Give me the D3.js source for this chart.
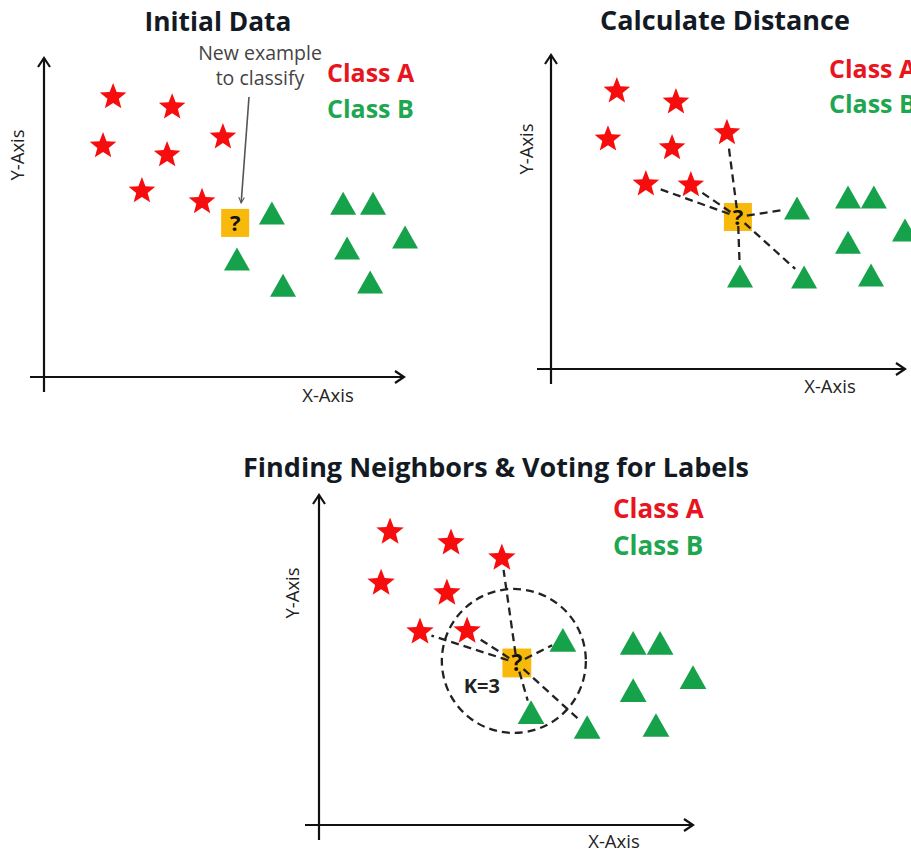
<!DOCTYPE html>
<html>
<head>
<meta charset="utf-8">
<script src="https://cdn.jsdelivr.net/npm/d3@7"></script>
<style>
  html, body { margin: 0; padding: 0; background: #fff; }
  svg { display: block; font-family: "Open Sans", Lato, sans-serif; }
</style>
</head>
<body>
<div id="chart"></div>
<script>
// Data (x, y in axis units 0..10 for each panel)
const classNames = ["Class A", "Class B"];
const panelTitles = ["Initial Data", "Calculate Distance", "Finding Neighbors & Voting for Labels"];
const axisLabels = ["X-Axis", "Y-Axis"];
const noteLines = ["New example", "to classify"];
const kLabel = "K=3";

const initialStars = [[1.92, 8.78], [3.56, 8.46], [4.97, 7.52], [1.64, 7.24], [3.42, 6.96], [2.72, 5.83], [4.39, 5.49]];
const initialTriangles = [[6.33, 5.14], [8.31, 5.45], [9.14, 5.45], [10.03, 4.39], [8.42, 4.04], [5.36, 3.70], [6.64, 2.88], [9.06, 2.98]];
const initialQuery = [5.31, 4.83];

const distanceStars = [[1.86, 8.85], [3.53, 8.50], [4.97, 7.52], [1.61, 7.32], [3.42, 7.04], [2.68, 5.89], [3.95, 5.86]];
const distanceTriangles = [[6.95, 5.13], [8.39, 5.48], [9.12, 5.48], [10.0, 4.43], [8.39, 4.04], [5.34, 2.96], [7.15, 2.93], [9.04, 2.99]];
const distanceQuery = [5.28, 4.84];

const votingStars = [[1.90, 8.88], [3.53, 8.55], [4.89, 8.09], [1.66, 7.33], [3.42, 7.03], [2.70, 5.85], [3.96, 5.88]];
const votingTriangles = [[6.52, 5.61], [8.40, 5.52], [9.12, 5.52], [10.0, 4.48], [8.40, 4.09], [5.67, 3.42], [7.17, 2.97], [9.01, 3.03]];
const votingQuery = [5.29, 4.91];

// indices of the points joined to the new example
const neighborStars = [2, 5, 6];
const neighborTriangles = [0, 5, 6];

// Colors
const RED = "#f70d0d";
const GREEN = "#16a24a";
const BOX = "#f8b90b";
const INK = "#141a24";

const width = 911, height = 855;
const svg = d3.select("#chart").append("svg")
    .attr("width", width)
    .attr("height", height);

const defs = svg.append("defs");
defs.append("marker")
    .attr("id", "note-arrow")
    .attr("viewBox", "0 0 10 10")
    .attr("refX", 9).attr("refY", 5)
    .attr("markerWidth", 7).attr("markerHeight", 7)
    .attr("markerUnits", "userSpaceOnUse")
    .attr("orient", "auto")
    .append("path")
    .attr("d", "M1,1 L9,5 L1,9")
    .attr("fill", "none")
    .attr("stroke", "#555")
    .attr("stroke-width", 1.6);

function starPath(R, r) {
    const pts = [];
    for (let i = 0; i < 10; i++) {
        const a = -Math.PI / 2 + i * Math.PI / 5;
        const rad = i % 2 === 0 ? R : r;
        pts.push([Math.cos(a) * rad, Math.sin(a) * rad]);
    }
    return "M" + pts.map(p => p.join(",")).join("L") + "Z";
}
function trianglePath(w, h) {
    return `M0,${-h / 2}L${w / 2},${h / 2}L${-w / 2},${h / 2}Z`;
}

function drawPanel(p) {
    const x = d3.scaleLinear().domain([0, 10]).range(p.xRange);
    const y = d3.scaleLinear().domain([0, 10]).range(p.yRange);
    const g = svg.append("g");
    const s = p.markScale || 1;

    // Title
    g.append("text")
        .attr("x", p.title[0]).attr("y", p.title[1])
        .attr("text-anchor", "middle")
        .attr("font-weight", 700)
        .attr("font-size", p.titleSize)
        .attr("fill", INK)
        .text(p.titleText);

    // Axes (arrows)
    const x0 = x(0), y0 = y(0);
    const xEnd = x.range()[1], yEnd = y.range()[1];
    const axes = g.append("g")
        .attr("fill", "none")
        .attr("stroke", "#111")
        .attr("stroke-width", 2.2);
    axes.append("path").attr("d", `M${x0},${y0 + 15}V${yEnd}`);
    axes.append("path").attr("d", `M${x0 - 14},${y0}H${xEnd}`);
    axes.append("path").attr("d", `M${x0 - 6},${yEnd + 9}L${x0},${yEnd}L${x0 + 6},${yEnd + 9}`);
    axes.append("path").attr("d", `M${xEnd - 9},${y0 - 6}L${xEnd},${y0}L${xEnd - 9},${y0 + 6}`);

    g.append("text")
        .attr("x", p.xLabel[0]).attr("y", p.xLabel[1])
        .attr("text-anchor", "middle")
        .attr("font-size", 18.5)
        .attr("fill", "#222")
        .text(axisLabels[0]);
    g.append("text")
        .attr("transform", `translate(${p.yLabel[0]},${p.yLabel[1]}) rotate(-90)`)
        .attr("text-anchor", "middle")
        .attr("dy", "0.35em")
        .attr("font-size", 18.5)
        .attr("fill", "#222")
        .text(axisLabels[1]);

    // Legend text
    g.selectAll(".cls")
        .data(classNames)
        .enter().append("text")
        .attr("x", p.legend[0])
        .attr("y", (d, i) => p.legend[1] + i * p.legendGap)
        .attr("font-weight", 700)
        .attr("font-size", p.legendSize)
        .attr("fill", (d, i) => i === 0 ? "#e8141e" : "#1ea650")
        .text(d => d);

    const qx = x(p.query[0]), qy = y(p.query[1]);

    // Circle for K neighbours
    if (p.circleR) {
        g.append("circle")
            .attr("cx", qx - 3).attr("cy", qy - 2)
            .attr("r", p.circleR)
            .attr("fill", "none")
            .attr("stroke", "#222")
            .attr("stroke-width", 2.3)
            .attr("stroke-dasharray", "8,5");
    }

    // Stars and triangles
    g.selectAll(".star")
        .data(p.stars)
        .enter().append("path")
        .attr("d", starPath(14 * s, 6 * s))
        .attr("transform", d => `translate(${x(d[0])},${y(d[1])})`)
        .attr("fill", RED);

    g.selectAll(".tri")
        .data(p.triangles)
        .enter().append("path")
        .attr("d", trianglePath(26 * s, 23 * s))
        .attr("transform", d => `translate(${x(d[0])},${y(d[1])})`)
        .attr("fill", GREEN);

    // New example box
    const bs = 28 * s;
    g.append("rect")
        .attr("x", qx - bs / 2).attr("y", qy - bs / 2)
        .attr("width", bs).attr("height", bs)
        .attr("fill", BOX);

    // Distance lines
    if (p.links) {
        const targets = neighborStars.map(i => p.stars[i])
            .concat(neighborTriangles.map(i => p.triangles[i]));
        g.selectAll(".link")
            .data(targets)
            .enter().append("line")
            .each(function (d) {
                const tx = x(d[0]), ty = y(d[1]);
                const dx = tx - qx, dy = ty - qy;
                const len = Math.hypot(dx, dy);
                d3.select(this)
                    .attr("x1", qx + dx / len * 9).attr("y1", qy + dy / len * 9)
                    .attr("x2", tx - dx / len * 12).attr("y2", ty - dy / len * 12);
            })
            .attr("stroke", "#222")
            .attr("stroke-width", 2.3)
            .attr("stroke-dasharray", "8,5");
    }

    g.append("text")
        .attr("x", qx).attr("y", qy + 8 * s)
        .attr("text-anchor", "middle")
        .attr("font-weight", 700)
        .attr("font-size", 22 * s)
        .attr("fill", "#111")
        .text("?");

    if (p.kLabel) {
        g.append("text")
            .attr("x", qx - 35).attr("y", qy + 30)
            .attr("text-anchor", "middle")
            .attr("font-weight", 700)
            .attr("font-size", 20)
            .attr("fill", "#222")
            .text(kLabel);
    }

    if (p.note) {
        g.selectAll(".note")
            .data(noteLines)
            .enter().append("text")
            .attr("x", p.note[0])
            .attr("y", (d, i) => p.note[1] + i * 25)
            .attr("text-anchor", "middle")
            .attr("font-size", 19.5)
            .attr("fill", "#444")
            .text(d => d);
        g.append("line")
            .attr("x1", p.note[0] - 11).attr("y1", p.note[1] + 37)
            .attr("x2", qx + 6).attr("y2", qy - 20)
            .attr("stroke", "#555")
            .attr("stroke-width", 1.6)
            .attr("marker-end", "url(#note-arrow)");
    }
}

drawPanel({
    titleText: panelTitles[0], title: [218, 31], titleSize: 26.3,
    xRange: [44, 404], yRange: [377, 58],
    xLabel: [328, 402], yLabel: [18, 155],
    legend: [327, 82], legendGap: 36, legendSize: 25,
    stars: initialStars, triangles: initialTriangles, query: initialQuery,
    note: [260, 60]
});

drawPanel({
    titleText: panelTitles[1], title: [725, 30], titleSize: 27,
    xRange: [551, 905], yRange: [369, 55],
    xLabel: [830, 393], yLabel: [527, 149],
    legend: [829, 78], legendGap: 35, legendSize: 25,
    stars: distanceStars, triangles: distanceTriangles, query: distanceQuery,
    links: true
});

drawPanel({
    titleText: panelTitles[2], title: [496, 477], titleSize: 27,
    xRange: [319, 693], yRange: [825, 495],
    xLabel: [614, 848], yLabel: [293, 593],
    legend: [613, 518], legendGap: 37, legendSize: 26,
    stars: votingStars, triangles: votingTriangles, query: votingQuery,
    links: true, circleR: 72, kLabel: true, markScale: 1.03
});
</script>
</body>
</html>
